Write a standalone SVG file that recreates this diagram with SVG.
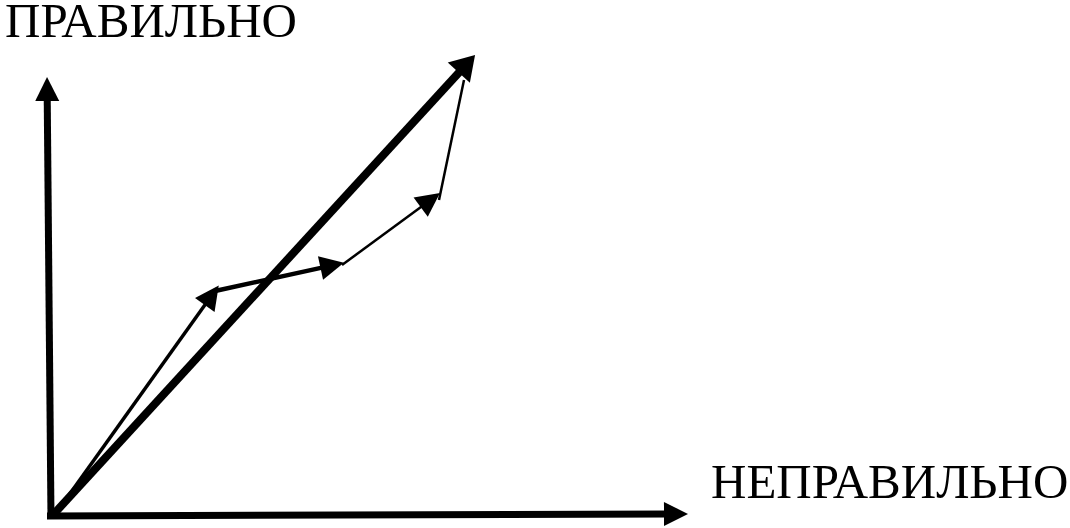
<svg xmlns="http://www.w3.org/2000/svg" width="1070" height="528" viewBox="0 0 1070 528">
<style>
.lbl{font-family:"Liberation Serif","Times New Roman",serif;font-size:49px;fill:#000}
.ln{stroke:#000;fill:none;stroke-linecap:butt}
</style>
<defs>
<marker id="head" markerUnits="userSpaceOnUse" markerWidth="26" markerHeight="26" refX="5" refY="12" orient="auto" overflow="visible">
<path d="M0,0 L24,12 L0,24 z" fill="#000"/>
</marker>
<marker id="bighead" markerUnits="userSpaceOnUse" markerWidth="26" markerHeight="32" refX="5" refY="15" orient="auto" overflow="visible">
<path d="M0,0 L24,15 L0,30 z" fill="#000"/>
</marker>
</defs>
<rect width="1070" height="528" fill="#fff"/>
<g id="label-pravilno"><text class="lbl" x="5" y="37">ПРАВИЛЬНО</text></g>
<g id="label-nepravilno"><text class="lbl" x="711" y="498">НЕПРАВИЛЬНО</text></g>
<g id="connectors">
<line class="ln" x1="51" y1="519" x2="47.2" y2="96" stroke-width="7" marker-end="url(#head)"/>
<line class="ln" x1="47" y1="516" x2="669" y2="514" stroke-width="7" marker-end="url(#head)"/>
<line class="ln" x1="52" y1="516" x2="462.2" y2="69" stroke-width="8" marker-end="url(#bighead)"/>
<line class="ln" x1="54" y1="516" x2="207.7" y2="301" stroke-width="3.5" marker-end="url(#head)"/>
<line class="ln" x1="215" y1="291" x2="325.4" y2="266.9" stroke-width="4.5" marker-end="url(#head)"/>
<line class="ln" x1="342" y1="265" x2="424.7" y2="204.2" stroke-width="2.5" marker-end="url(#head)"/>
<line class="ln" x1="439" y1="200" x2="464" y2="80" stroke-width="2.5"/>
</g>
</svg>
